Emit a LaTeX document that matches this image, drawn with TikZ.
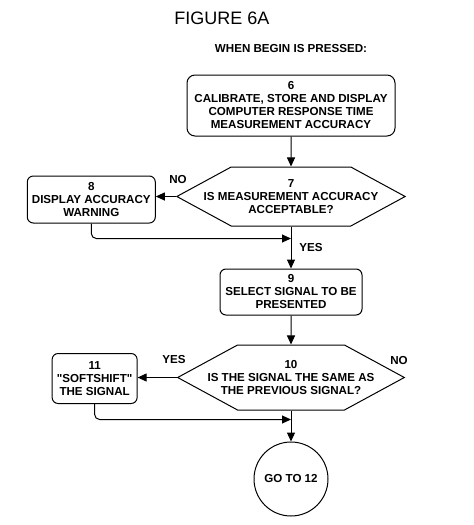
\documentclass[tikz,border=0pt]{standalone}
\usepackage{fontspec}
\setmainfont{Liberation Sans}[Ligatures=TeXOff]
\usetikzlibrary{shapes,arrows.meta,positioning}

\begin{document}
\begin{tikzpicture}[
    x=1pt, y=-1pt,
    node distance=30pt,
    txt/.style={font=\bfseries\fontsize{11.6}{13}\selectfont, align=center},
    box/.style={txt, rectangle, draw, rounded corners=6pt, line width=1pt, inner sep=2pt},
    decision/.style={txt, signal, signal to=east and west, signal pointer angle=57, draw, line width=1pt, minimum height=59pt, inner ysep=0pt},
    terminal/.style={txt, circle, draw, line width=1pt, minimum size=74pt, inner sep=0pt},
    arrow/.style={-{Triangle[length=9pt,width=8pt]}, line width=1pt}
]
    \useasboundingbox (0,0) rectangle (474,525);

    \node[font=\fontsize{18}{20}\selectfont] (title) at (222,18) {FIGURE 6A};
    \node[txt] (start) at (291,49) {WHEN BEGIN IS PRESSED:};

    \node[box, minimum width=208pt, minimum height=61pt, rounded corners=8pt] (calib) at (291,105.5) {6\\CALIBRATE, STORE AND DISPLAY\\COMPUTER RESPONSE TIME\\MEASUREMENT ACCURACY};
    \node[decision, inner xsep=-27.5pt, below=30pt of calib] (accok) {7\\IS MEASUREMENT ACCURACY\\ACCEPTABLE?};
    \node[box, minimum width=128pt, minimum height=47pt, left=20pt of accok, yshift=-3pt] (warn) {8\\DISPLAY ACCURACY\\WARNING};
    \node[box, minimum width=142pt, minimum height=46pt, below=42pt of accok] (select) {9\\SELECT SIGNAL TO BE\\PRESENTED};
    \node[decision, inner xsep=-30pt, minimum height=65pt, below=29pt of select] (same) {10\\IS THE SIGNAL THE SAME AS\\THE PREVIOUS SIGNAL?};
    \node[box, minimum width=85pt, minimum height=50pt, left=39pt of same, yshift=-1pt] (shift) {11\\"SOFTSHIFT"\\THE SIGNAL};
    \node[terminal, below=31pt of same] (goto) {GO TO 12};

    \path (accok.south) ++(0,12) coordinate (join1);
    \path (same.south) ++(0,9) coordinate (join2);

    \draw[arrow] (calib) -- (accok);
    \draw[arrow] (accok.west) -- (accok.west -| warn.east);
    \draw[arrow] (accok) -- (select);
    \draw[arrow, rounded corners=5pt] (warn.south) |- (join1);
    \draw[arrow] (select) -- (same);
    \draw[arrow] (same.west) -- (same.west -| shift.east);
    \draw[arrow, rounded corners=5pt] (shift.south) |- (join2);
    \draw[arrow] (same) -- (goto);

    \node[txt] (no1) at (178,180) {NO};
    \node[txt] (yes1) at (311,248) {YES};
    \node[txt] (yes2) at (174,360) {YES};
    \node[txt] (no2) at (399,361) {NO};
\end{tikzpicture}
\end{document}
